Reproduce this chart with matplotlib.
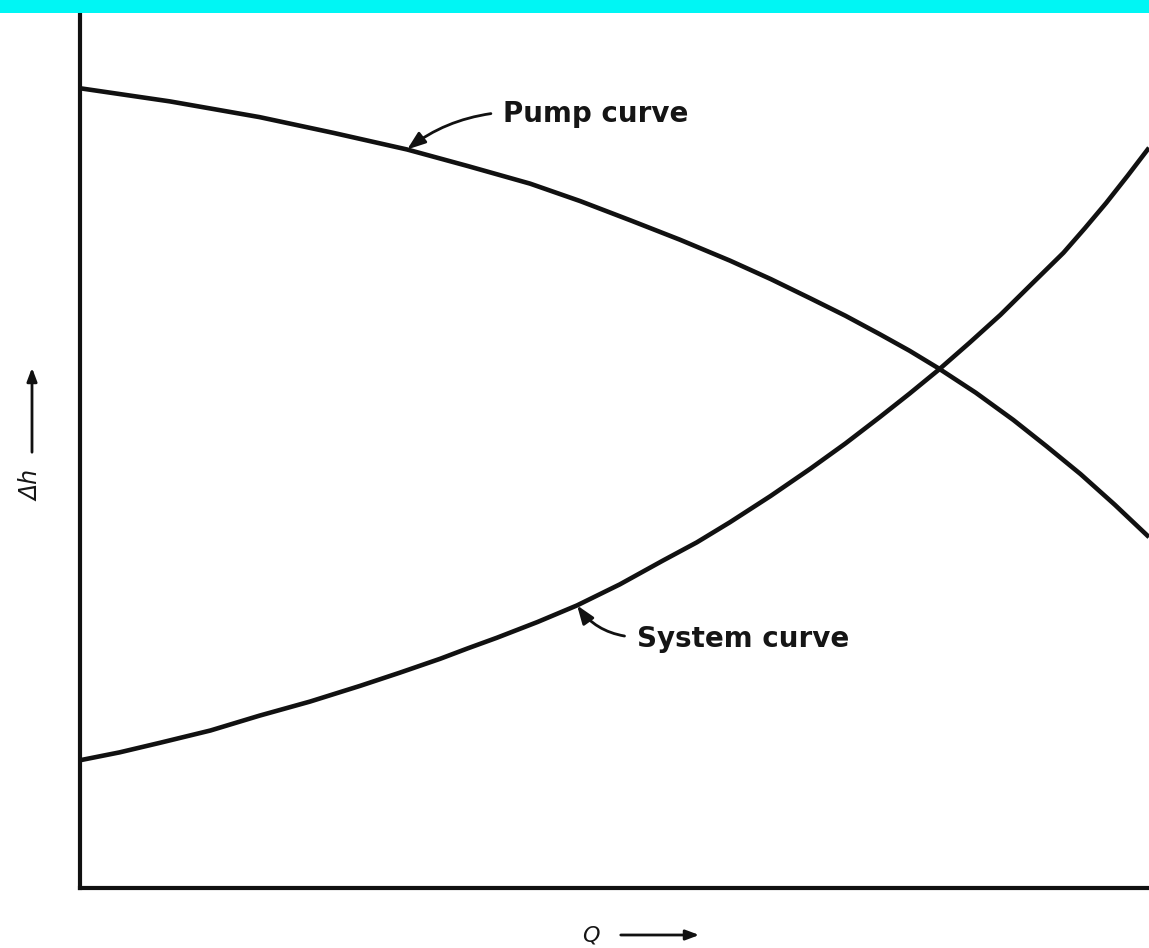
import numpy as np
import matplotlib.pyplot as plt
from matplotlib.patches import Rectangle

# Curvas de la bomba y del sistema (unidades arbitrarias, Q y Δh de 0 a 10)
q_bomba = [0.00, 0.84, 1.68, 2.37, 3.06, 3.63, 4.21, 4.68, 5.15, 5.61, 6.08, 6.46,
           6.83, 7.16, 7.48, 7.76, 8.03, 8.38, 8.73, 9.04, 9.36, 9.68, 10.00]
h_bomba = [9.14, 8.99, 8.81, 8.63, 8.44, 8.25, 8.05, 7.85, 7.63, 7.41, 7.17, 6.96,
           6.74, 6.54, 6.33, 6.14, 5.94, 5.66, 5.35, 5.05, 4.73, 4.38, 4.01]

q_sistema = [0.00, 0.37, 0.75, 1.22, 1.68, 2.15, 2.62, 2.99, 3.37, 3.63, 3.90, 4.28,
             4.65, 5.05, 5.45, 5.77, 6.08, 6.46, 6.83, 7.16, 7.48, 7.76, 8.03, 8.32,
             8.61, 8.90, 9.20, 9.40, 9.60, 9.80, 10.00]
h_sistema = [1.46, 1.55, 1.66, 1.80, 1.97, 2.13, 2.31, 2.46, 2.62, 2.74, 2.86, 3.04,
             3.23, 3.47, 3.74, 3.95, 4.18, 4.48, 4.79, 5.08, 5.38, 5.65, 5.92, 6.23,
             6.55, 6.90, 7.26, 7.54, 7.83, 8.14, 8.46]

etiquetas = ["Pump curve", "System curve"]

W, H = 1149, 948
fig = plt.figure(figsize=(W / 100, H / 100), dpi=100)
fig.patch.set_facecolor("white")

# franja superior
fig.add_artist(Rectangle((0, 1 - 13 / H), 1, 13 / H, transform=fig.transFigure,
                         facecolor="#00f6f4", edgecolor="none"))

ax = fig.add_axes([80 / W, (H - 888) / H, 1069 / W, 875 / H])
ax.set_xlim(0, 10)
ax.set_ylim(0, 10)
ax.patch.set_alpha(0)

for lado in ["top", "right"]:
    ax.spines[lado].set_visible(False)
for lado in ["left", "bottom"]:
    ax.spines[lado].set_linewidth(3)
    ax.spines[lado].set_color("#111111")
ax.set_xticks([])
ax.set_yticks([])

ax.plot(q_bomba, h_bomba, color="#111111", lw=3.3, solid_capstyle="butt", solid_joinstyle="round")
ax.plot(q_sistema, h_sistema, color="#111111", lw=3.3, solid_capstyle="butt", solid_joinstyle="round")

fuente = dict(fontsize=20, fontweight="bold", color="#151515", family="DejaVu Sans")
flecha = dict(arrowstyle="-|>,head_length=0.55,head_width=0.2", color="#111111",
              lw=2, relpos=(0, 0.55), shrinkA=7, shrinkB=0)

# etiqueta de la curva de la bomba
ax.annotate(etiquetas[0], xy=(q_bomba[4], h_bomba[4]), xytext=(3.96, 8.85),
            ha="left", va="center", **fuente,
            arrowprops=dict(flecha, connectionstyle="arc3,rad=0.15"))

# etiqueta de la curva del sistema
ax.annotate(etiquetas[1], xy=(q_sistema[12], h_sistema[12]), xytext=(5.21, 2.85),
            ha="left", va="center", **fuente,
            arrowprops=dict(flecha, connectionstyle="arc3,rad=-0.25"))

# rótulos de los ejes con flechas
fig.text(31 / W, (H - 485) / H, "Δh", rotation=90, ha="center", va="center",
         fontsize=17, fontstyle="italic", color="#151515")
ax.annotate("", xy=(32, H - 365), xytext=(32, H - 455), xycoords="figure pixels",
            textcoords="figure pixels",
            arrowprops=dict(arrowstyle="-|>,head_length=0.8,head_width=0.3", color="#111111", lw=2))

fig.text(591 / W, (H - 935) / H, "Q", ha="center", va="center",
         fontsize=16, fontstyle="italic", color="#151515")
ax.annotate("", xy=(702, H - 935), xytext=(618, H - 935), xycoords="figure pixels",
            textcoords="figure pixels",
            arrowprops=dict(arrowstyle="-|>,head_length=0.8,head_width=0.3", color="#111111", lw=2))

fig.savefig("out.png", dpi=100)
